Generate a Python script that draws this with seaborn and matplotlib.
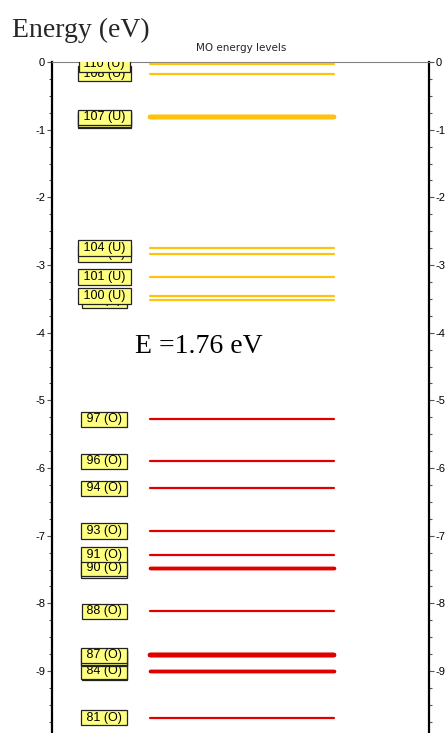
"""MO energy level diagram"""

import matplotlib
matplotlib.use("Agg")
import matplotlib.pyplot as plt
from matplotlib.ticker import MultipleLocator, FuncFormatter
from matplotlib.transforms import offset_copy
import pandas as pd
import seaborn as sns

# orbital number, energy (eV), occupation (U = unoccupied, O = occupied)
mo_number = [110, 108, 107, 106, 105, 104, 103, 101, 100, 99,
             97, 96, 94, 93, 91, 90, 89, 88, 87, 86, 85, 84, 83, 81]
mo_energy = [-0.03, -0.17, -0.82, -0.82, -0.82, -2.75, -2.84, -3.18, -3.46, -3.52,
             -5.28, -5.90, -6.30, -6.93, -7.28, -7.48, -7.48, -8.12, -8.77, -8.77, -8.77,
             -9.00, -9.00, -9.69]
mo_occ = ["U", "U", "U", "U", "U", "U", "U", "U", "U", "U",
          "O", "O", "O", "O", "O", "O", "O", "O", "O", "O", "O",
          "O", "O", "O"]
gap_text = "E =1.76 eV"

df = pd.DataFrame({"mo": mo_number, "energy": mo_energy, "occ": mo_occ})
df["deg"] = df.groupby("energy")["mo"].transform("count")

# line segments for seaborn
x0, x1 = 0.26, 0.748
seg = pd.concat([df.assign(x=x0), df.assign(x=x1)]).sort_values(["mo", "x"])

sns.set_style("white")
plt.rcParams["axes.unicode_minus"] = False
plt.rcParams["font.family"] = ["Liberation Sans", "DejaVu Sans"]

fig = plt.figure(figsize=(4.47, 7.33), dpi=100)
ax = fig.add_axes([52 / 447, 0, 377 / 447, 1 - 62 / 733])

sns.lineplot(data=seg, x="x", y="energy", units="mo", estimator=None, sort=False,
             hue="occ", palette={"U": "#FFC20E", "O": "#E00000"},
             size="deg", sizes={1: 1.6, 2: 2.5, 3: 3.2},
             legend=False, ax=ax, zorder=3)

# labels, lower numbers first so higher ones sit on top
for _, r in df.sort_values("mo").iterrows():
    k = ((df["energy"] == r["energy"]) & (df["mo"] > r["mo"])).sum()
    tr = offset_copy(ax.transData, fig=fig, y=-1.6 * k, units="dots")
    ax.text(0.139, r["energy"], f" {r['mo']} ({r['occ']}) ", transform=tr,
            ha="center", va="center", fontsize=9, color="black",
            clip_on=True, zorder=3 + r["mo"] / 1000,
            bbox=dict(boxstyle="square,pad=0.14", fc="#FFFF80", ec="#222222", lw=0.9))

ax.set_xlim(0, 1)
ax.set_ylim(-(733 - 62) / 67.67, 0)
ax.set_xlabel("")
ax.set_ylabel("")
ax.set_xticks([])

ax.yaxis.set_major_locator(MultipleLocator(1))
ax.yaxis.set_minor_locator(MultipleLocator(0.25))
ax.yaxis.set_major_formatter(FuncFormatter(lambda v, p: f"{int(round(v))}"))
ax.tick_params(axis="y", which="both", left=True, right=True,
               labelleft=True, labelright=True, direction="out",
               colors="#555555", labelcolor="black", labelsize=8, pad=1.5)
ax.tick_params(axis="y", which="major", length=3.5, width=0.8)
ax.tick_params(axis="y", which="minor", length=2, width=0.8)

for side in ["left", "right"]:
    ax.spines[side].set_linewidth(1.6)
    ax.spines[side].set_color("black")
ax.spines["top"].set_linewidth(0.8)
ax.spines["top"].set_color("#808080")
ax.spines["bottom"].set_visible(False)

ax.text((135 - 52) / 377, -(353 - 62) / 67.67, gap_text, ha="left", va="baseline",
        fontsize=20, family="Liberation Serif", color="black")

fig.text(241 / 447, 1 - 48 / 733, "MO energy levels", ha="center", va="center",
         fontsize=7.5, family="DejaVu Sans")
fig.text(12 / 447, 1 - 37 / 733, "Energy (eV)", ha="left", va="baseline",
         fontsize=20, family="Liberation Serif")

plt.savefig("out.png", dpi=100)
